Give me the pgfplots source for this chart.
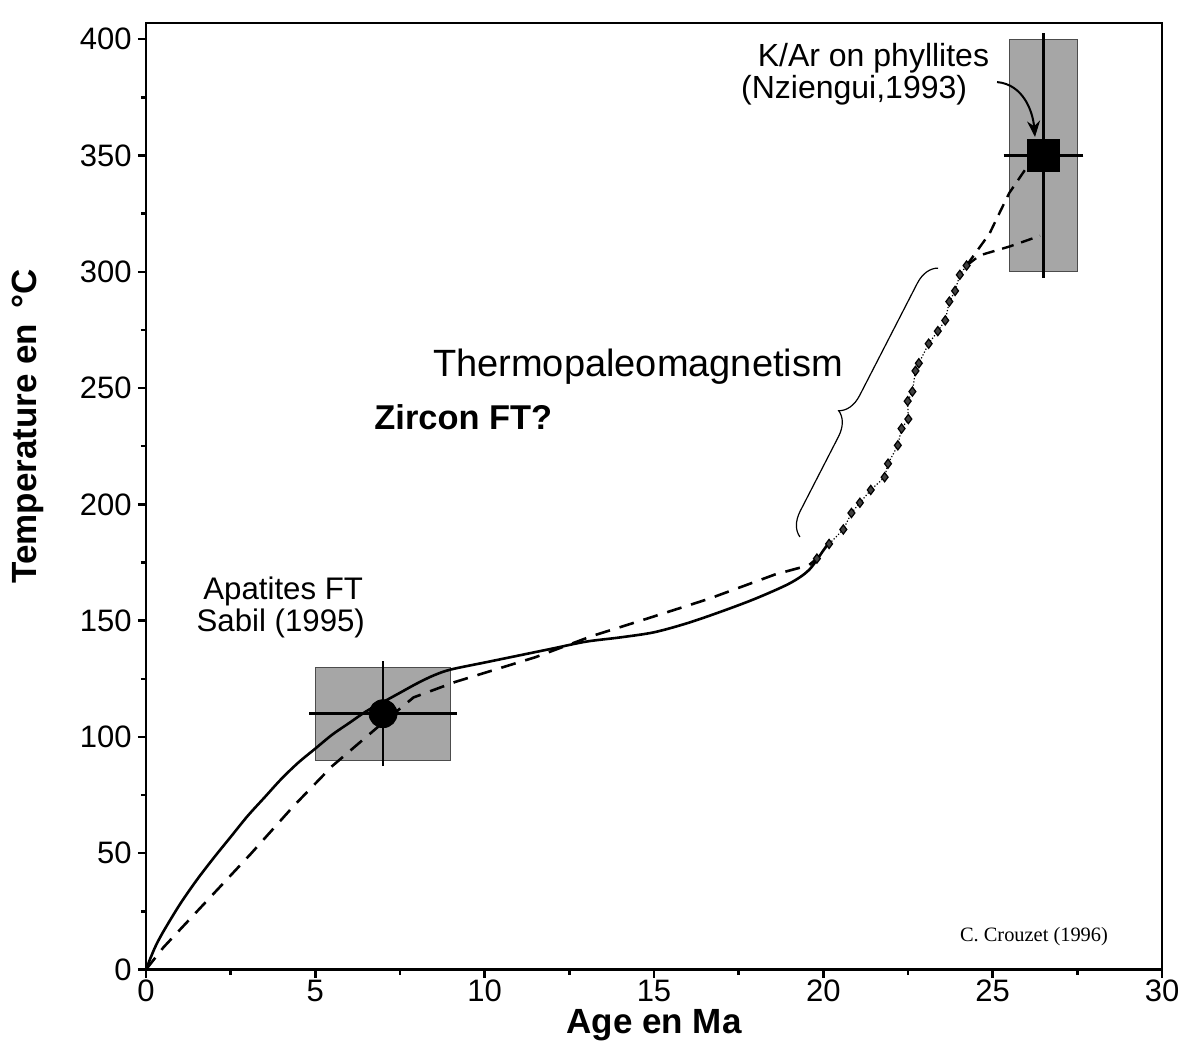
\documentclass[border=0pt]{standalone}
\usepackage{pgfplots}
\pgfplotsset{compat=1.18}
\usepackage{fontspec}
\setmainfont{Liberation Sans}
\newfontfamily\seriffont{Liberation Serif}
\usetikzlibrary{decorations.pathreplacing,arrows.meta}

\begin{document}
\begin{tikzpicture}
\begin{axis}[
  name=ax,
  scale only axis,
  width=508pt, height=473.25pt,
  xmin=0, xmax=30, ymin=0, ymax=407,
  xtick={0,5,...,30}, ytick={0,50,...,400},
  minor x tick num=1, minor y tick num=1,
  tick pos=left, tick align=outside,
  major tick length=4pt, minor tick length=2.5pt,
  axis line style={line width=1.3pt},
  every tick/.style={black, line width=1.2pt},
  tick label style={font=\fontsize{15.5}{18}\selectfont},
  /pgf/number format/assume math mode=true,
  xticklabel style={inner sep=1pt},
  yticklabel style={inner sep=3pt},
  xlabel={Age en Ma},
  ylabel={Temperature en \,°C},
  label style={font=\fontsize{17.5}{20}\selectfont\bfseries},
  xlabel style={at={(axis description cs:0.5,-0.0671)}, anchor=base},
  ylabel style={at={(axis description cs:-0.108,0.574)}, anchor=base},
  clip=false,
]
% error boxes
\addplot[draw=black!70, fill=black!35, line width=0.5pt] coordinates {(5,90) (9,90) (9,130) (5,130)} -- cycle;
\addplot[draw=black!70, fill=black!35, line width=0.5pt] coordinates {(25.5,300) (27.5,300) (27.5,400) (25.5,400)} -- cycle;

% solid curve
\addplot[black, line width=1.3pt, smooth, tension=0.5] coordinates {
(0,0) (0.25,9) (0.5,16) (1,28) (1.5,38.5) (2,48) (2.5,57) (3,66) (3.5,74)
(4,82) (4.5,89) (5,95) (5.5,101) (6,106) (6.5,111) (7,115) (7.5,119)
(8,123) (8.5,126.5) (9,129) (10,132) (11,135) (12,138) (13,141) (14,142.8)
(15,145) (16,149) (17,154) (18,159.5) (19,166) (19.57,171.7) (20.01,180.4) (20.15,183.3)};

% dashed curve
\addplot[black, line width=1.3pt, dash pattern=on 7.5pt off 5pt] coordinates {
(0,0) (0.52,9.6) (3.08,49.5) (4.34,70) (5.5,87.5) (6.88,104.7) (7.9,117)
(9.14,123.7) (11.5,134.3) (13.17,143.4) (14.65,150.2) (16.62,159.4)
(18.58,169.9) (19.57,173.8) (19.81,176.7)};

% dashed links to K/Ar box
\addplot[black, line width=1.2pt, dash pattern=on 6pt off 4pt] coordinates {
(24.23,302.7) (24.37,305.6) (24.91,316.5) (25.1,322.3) (25.49,333.9) (26.0,344.8)};
\addplot[black, line width=1.2pt, dash pattern=on 6pt off 4pt] coordinates {
(24.23,302.7) (24.62,307.1) (25.5,310.9) (26.4,315.5)};

% thermopaleomagnetism data
\addplot[black, line width=0.6pt, densely dotted, mark=diamond*, mark size=2.3pt,
  mark options={solid, fill=black!75, draw=black}] coordinates {
(19.81,176.7) (20.17,183.0) (20.59,189.2) (20.83,196.3) (21.08,200.7) (21.40,206.2)
(21.81,211.7) (21.91,217.5) (22.20,225.4) (22.31,232.6) (22.51,236.7) (22.49,244.4)
(22.63,248.5) (22.72,257.4) (22.82,260.7) (23.11,269.1) (23.38,274.5) (23.60,279.1)
(23.72,287.2) (23.89,291.8) (24.03,298.7) (24.23,302.7)};

% apatite point with error bars
\addplot[black, only marks, mark=*, mark size=7pt,
  error bars/.cd, x dir=both, x explicit, y dir=both, y explicit,
  error bar style={line width=1.2pt},
  error mark options={line width=1.2pt, mark size=3pt}]
  coordinates {(7,110) +- (2,20)};

% K/Ar point with error bars
\addplot[black, only marks, mark=square*, mark size=8pt,
  error bars/.cd, x dir=both, x explicit, y dir=both, y explicit,
  error bar style={line width=1.2pt},
  error mark options={line width=1.2pt, mark size=3pt}]
  coordinates {(26.5,350) +- (1,50)};

% annotations
\node[anchor=base, font=\fontsize{19}{22}\selectfont] at (axis cs:14.53,255.2) {Thermopaleomagnetism};
\node[anchor=base, font=\fontsize{17.2}{20}\selectfont\bfseries] at (axis cs:9.37,232.0) {Zircon FT?};
\node[anchor=base, font=\fontsize{16}{18}\selectfont, inner sep=1pt] at (axis cs:21.48,388.2) {K/Ar on phyllites};
\node[anchor=base, font=\fontsize{16}{18}\selectfont, inner sep=1pt] at (axis cs:20.91,374.6) {(Nziengui,1993)};
\node[anchor=base, font=\fontsize{15.6}{18}\selectfont] at (axis cs:4.05,158.9) {Apatites FT};
\node[anchor=base, font=\fontsize{15.6}{18}\selectfont] at (axis cs:3.98,145.3) {Sabil (1995)};
\node[anchor=base, font=\seriffont\fontsize{10.2}{12}\selectfont] at (axis cs:26.22,12.0) {C. Crouzet (1996)};

\draw[line width=0.6pt, decorate, decoration={brace, amplitude=11.6pt, aspect=0.43}]
  (axis cs:19.31,186.0) -- (axis cs:23.39,301.6);
\draw[line width=1pt, -{Stealth[length=8pt,width=6.5pt]}]
  (axis cs:25.13,381.6) to[out=-5, in=95] (axis cs:26.25,358);
\end{axis}
\pgfresetboundingbox
\path ([shift={(-73pt,-38.75pt)}]ax.south west) rectangle ([shift={(13.5pt,11.5pt)}]ax.north east);
\end{tikzpicture}
\end{document}
